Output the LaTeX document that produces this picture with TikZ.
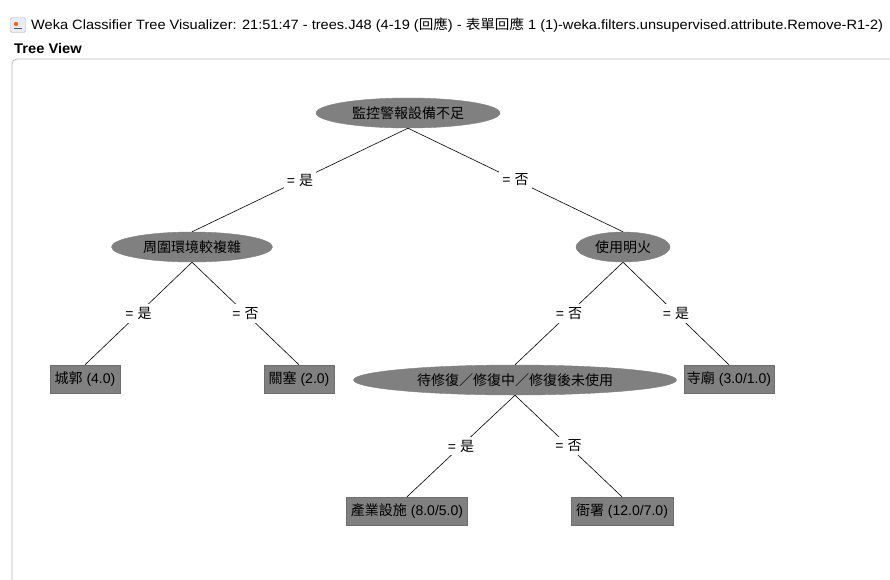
\documentclass[tikz,border=0pt]{standalone}
\usepackage{fontspec}
\setmainfont{Liberation Sans}
\newfontfamily\cjk{Noto Sans CJK TC}
\usetikzlibrary{shapes.geometric}
\definecolor{nodegray}{HTML}{808080}
\definecolor{nodeedge}{HTML}{6E6E6E}
\tikzset{
  x=1pt, y=-1pt,
  every node/.style={font=\fontsize{14}{16}\selectfont, text=black},
  splitnode/.style={ellipse, fill=nodegray, draw=nodegray, inner sep=0pt},
  leafnode/.style={rectangle, fill=nodegray, draw=nodeedge, inner sep=0pt, minimum height=28},
  edgelab/.style={fill=white, inner sep=3pt},
  branch/.style={draw=black, line width=0.6pt},
}
\begin{document}
\begin{tikzpicture}
\useasboundingbox (0,0) rectangle (890,579);
\fill[white] (0,0) rectangle (890,579);
% window title
\node[draw=gray!60, fill=blue!8, rounded corners=1.5, minimum width=15, minimum height=15, inner sep=0pt] (icon) at (18,25) {};
\fill[orange!80!red] (icon.center) ++(-2,-1) circle (2.2);
\draw[gray!70!black, line width=0.8pt] (icon.center) ++(-4,3) -- ++(8,0);
\node[anchor=west, inner sep=0pt, font=\fontsize{13.5}{15}\selectfont] (title) at (31,25) {\scalebox{1.08}[1]{Weka Classifier Tree Visualizer: 21:51:47 - trees.J48 (4-19 ({\cjk 回應}) - {\cjk 表單回應} 1 (1)-weka.filters.unsupervised.attribute.Remove-R1-2)}};
\node[anchor=west, inner sep=0pt, font=\fontsize{14}{16}\selectfont\bfseries] (tv) at (14,48) {\scalebox{1.05}[1]{Tree View}};
\draw[gray!55, line width=0.8pt, rounded corners=5] (12,600) -- (12,59) -- (910,59);
% split nodes
\node[splitnode, minimum width=184, minimum height=30] (root) at (408,113) {\cjk 監控警報設備不足};
\node[splitnode, minimum width=161, minimum height=30] (env) at (192,247) {\cjk 周圍環境較複雜};
\node[splitnode, minimum width=94, minimum height=30] (fire) at (623,247) {\cjk 使用明火};
\node[splitnode, minimum width=323, minimum height=30] (repair) at (515,380) {\cjk 待修復／修復中／修復後未使用};
% leaves
\node[leafnode, minimum width=70] (l1) at (85,379) {{\cjk 城郭} (4.0)};
\node[leafnode, minimum width=70] (l2) at (299,379) {{\cjk 關塞} (2.0)};
\node[leafnode, minimum width=90] (l3) at (729,379) {{\cjk 寺廟} (3.0/1.0)};
\node[leafnode, minimum width=121] (l4) at (407,511) {{\cjk 產業設施} (8.0/5.0)};
\node[leafnode, minimum width=102] (l5) at (622,511) {{\cjk 衙署} (12.0/7.0)};
% branches
\draw[branch] (root.south) -- node[edgelab] {= {\cjk 是}} (env.north);
\draw[branch] (root.south) -- node[edgelab] {= {\cjk 否}} (fire.north);
\draw[branch] (env.south) -- node[edgelab] {= {\cjk 是}} (l1.north);
\draw[branch] (env.south) -- node[edgelab] {= {\cjk 否}} (l2.north);
\draw[branch] (fire.south) -- node[edgelab] {= {\cjk 否}} (repair.north);
\draw[branch] (fire.south) -- node[edgelab] {= {\cjk 是}} (l3.north);
\draw[branch] (repair.south) -- node[edgelab] {= {\cjk 是}} (l4.north);
\draw[branch] (repair.south) -- node[edgelab] {= {\cjk 否}} (l5.north);
\end{tikzpicture}
\end{document}
